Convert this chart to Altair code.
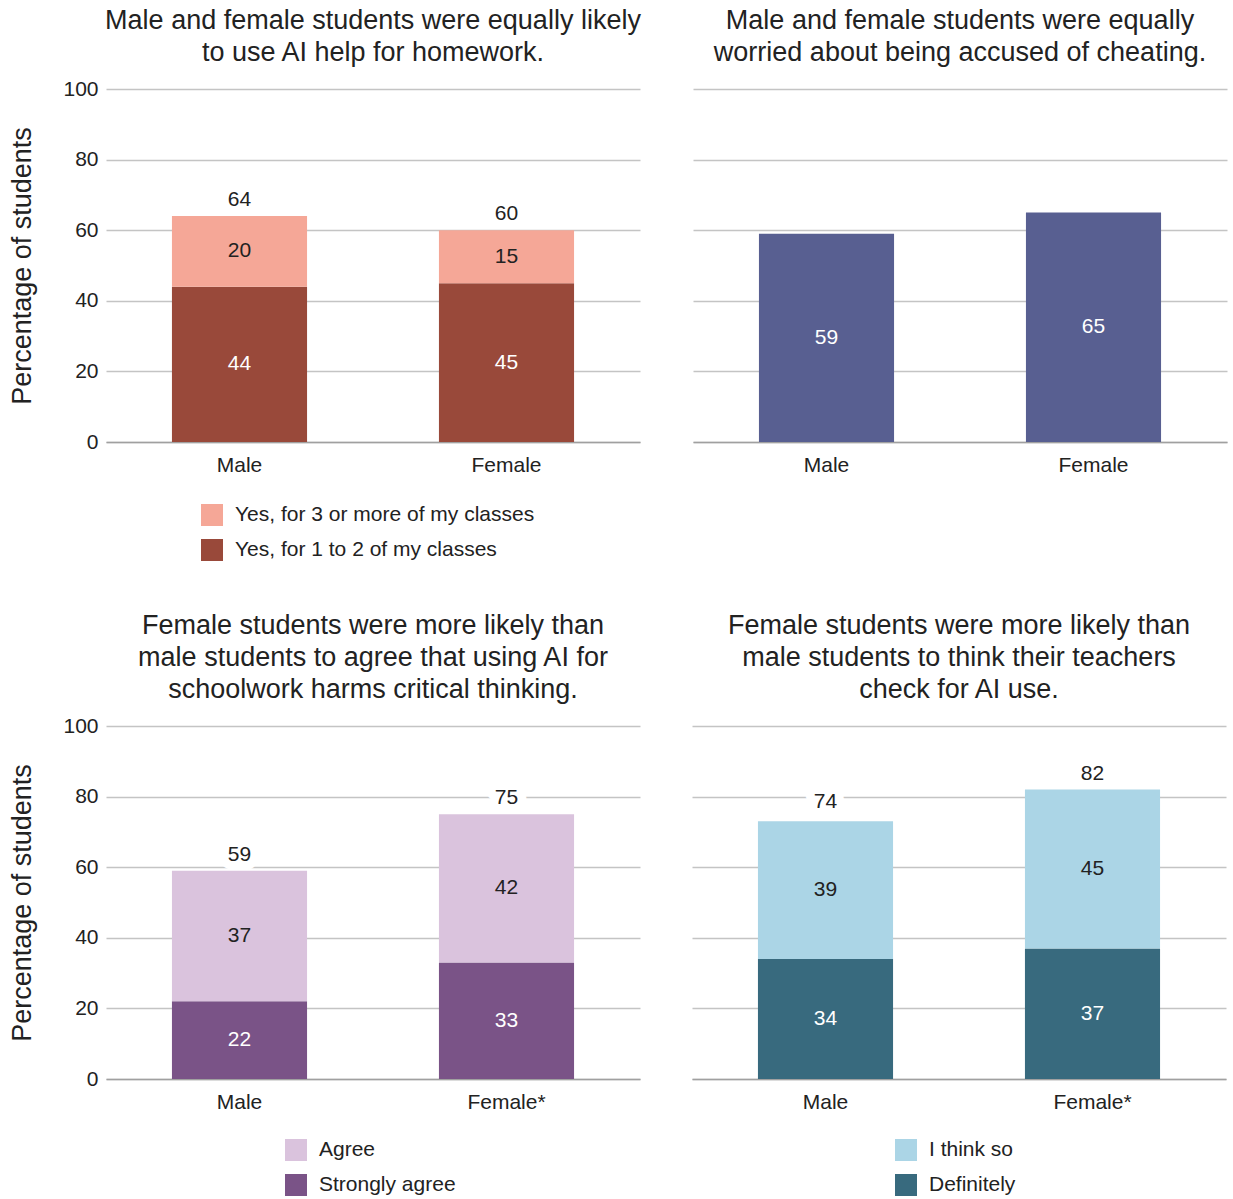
import altair as alt
import pandas as pd

FONT = "Liberation Sans"
TXT = "#222222"

cats_top = ["Male", "Female"]
cats_bottom = ["Male", "Female*"]

# Panel 1: AI help for homework
hw_series = ["Yes, for 3 or more of my classes", "Yes, for 1 to 2 of my classes"]
hw_many = [20, 15]
hw_few = [44, 45]
hw_total = [64, 60]
hw_colors = ["#F5A797", "#99493A"]

# Panel 2: worried about being accused of cheating
cheat_vals = [59, 65]
cheat_color = "#585F91"

# Panel 3: AI harms critical thinking
ct_series = ["Agree", "Strongly agree"]
ct_agree = [37, 42]
ct_strong = [22, 33]
ct_total = [59, 75]
ct_colors = ["#DAC3DD", "#7A5387"]

# Panel 4: teachers check for AI use
tc_series = ["I think so", "Definitely"]
tc_think = [39, 45]
tc_def = [34, 37]
tc_total = [74, 82]
tc_colors = ["#ABD5E6", "#386A7E"]

y_ticks = [0, 20, 40, 60, 80, 100]

W, H = 534, 353
LBL = 21
TTL = 27


def stacked_df(cats, series, upper, lower):
    rows = []
    for c, u, l in zip(cats, upper, lower):
        rows.append(dict(cat=c, series=series[1], y0=0, y1=l, mid=l / 2, val=l, dark=True))
        rows.append(dict(cat=c, series=series[0], y0=l, y1=l + u, mid=l + u / 2, val=u, dark=False))
    return pd.DataFrame(rows)


def x_enc(cats):
    return alt.X(
        "cat:N", sort=cats, title=None,
        scale=alt.Scale(paddingInner=0.494, paddingOuter=0.247),
        axis=alt.Axis(labelAngle=0, ticks=False, domain=True, domainColor="#a0a0a0",
                      domainWidth=1.5, labelPadding=12, labelFontSize=LBL,
                      labelColor=TXT, labelFont=FONT, grid=False),
    )


def y_scale():
    return alt.Scale(domain=[0, 100], nice=False)


def y_axis(show):
    if show:
        return alt.Axis(values=y_ticks, title="Percentage of students", ticks=False,
                        domain=False, labelPadding=8, labelFontSize=LBL, labelColor=TXT,
                        titleFontSize=TTL, titleColor=TXT, titleFontWeight="normal",
                        titlePadding=26, labelFont=FONT, titleFont=FONT,
                        grid=True, gridColor="#c4c4c4", gridWidth=1.5)
    return alt.Axis(values=y_ticks, title=None, labels=False, ticks=False, domain=False,
                    grid=True, gridColor="#c4c4c4", gridWidth=1.5)


def title_params(lines, offset):
    return alt.TitleParams(lines, fontSize=TTL, font=FONT, color=TXT, fontWeight="normal",
                           lineHeight=32, anchor="middle", offset=offset)


def stacked_panel(cats, series, upper, lower, totals, colors, title, legend_x, legend_y,
                  show_y, offset):
    df = stacked_df(cats, series, upper, lower)
    tot = pd.DataFrame({"cat": cats, "total": totals})
    x = x_enc(cats)
    knock = alt.Chart(tot).mark_text(
        fontSize=LBL, font=FONT, color="white", stroke="white", strokeWidth=18,
        strokeJoin="round", baseline="middle", dy=-16
    ).encode(x=x, y=alt.Y("total:Q", scale=y_scale(), axis=y_axis(show_y)), text="total:Q")
    bars = alt.Chart(df).mark_bar().encode(
        x=x,
        y=alt.Y("y1:Q", scale=y_scale(), axis=y_axis(show_y)),
        y2="y0:Q",
        color=alt.Color(
            "series:N",
            scale=alt.Scale(domain=series, range=colors),
            legend=alt.Legend(
                title=None, orient="none", legendX=legend_x, legendY=legend_y,
                direction="vertical", symbolType="square", symbolSize=484,
                symbolStrokeWidth=0, symbolOpacity=1, labelFontSize=LBL, labelFont=FONT,
                labelColor=TXT, rowPadding=13, labelOffset=12, padding=0, labelLimit=600,
            ),
        ),
    )
    lab_light = alt.Chart(df).transform_filter("!datum.dark").mark_text(
        fontSize=LBL, font=FONT, color=TXT, baseline="middle"
    ).encode(x=x, y=alt.Y("mid:Q", scale=y_scale()), text="val:Q")
    lab_dark = alt.Chart(df).transform_filter("datum.dark").mark_text(
        fontSize=LBL, font=FONT, color="white", baseline="middle"
    ).encode(x=x, y=alt.Y("mid:Q", scale=y_scale()), text="val:Q")
    tot_lab = alt.Chart(tot).mark_text(
        fontSize=LBL, font=FONT, color=TXT, baseline="middle", dy=-16
    ).encode(x=x, y=alt.Y("total:Q", scale=y_scale()), text="total:Q")
    return alt.layer(knock, bars, tot_lab, lab_light, lab_dark).properties(
        width=W, height=H, title=title_params(title, offset)
    )


def single_panel(cats, vals, color, title, show_y, offset):
    df = pd.DataFrame({"cat": cats, "val": vals})
    df["mid"] = df["val"] / 2
    x = x_enc(cats)
    bars = alt.Chart(df).mark_bar(color=color).encode(
        x=x, y=alt.Y("val:Q", scale=y_scale(), axis=y_axis(show_y))
    )
    labs = alt.Chart(df).mark_text(fontSize=LBL, font=FONT, color="white", baseline="middle").encode(
        x=x, y=alt.Y("mid:Q", scale=y_scale()), text="val:Q"
    )
    return alt.layer(bars, labs).properties(width=W, height=H, title=title_params(title, offset))


p1 = stacked_panel(cats_top, hw_series, hw_many, hw_few, hw_total, hw_colors,
                   ["Male and female students were equally likely", "to use AI help for homework."],
                   95, 415, True, 11)
p2 = single_panel(cats_top, cheat_vals, cheat_color,
                  ["Male and female students were equally", "worried about being accused of cheating."],
                  False, 22)
p3 = stacked_panel(cats_bottom, ct_series, ct_agree, ct_strong, ct_total, ct_colors,
                   ["Female students were more likely than",
                    "male students to agree that using AI for",
                    "schoolwork harms critical thinking."],
                   179, 413, True, 11)
p4 = stacked_panel(cats_bottom, tc_series, tc_think, tc_def, tc_total, tc_colors,
                   ["Female students were more likely than",
                    "male students to think their teachers",
                    "check for AI use."],
                   203, 413, False, 22)

top = alt.hconcat(p1, p2, spacing=52).resolve_scale(color="independent", x="independent")
bottom = alt.hconcat(p3, p4, spacing=52).resolve_scale(color="independent", x="independent")

chart = alt.vconcat(top, bottom, spacing=51).resolve_scale(
    color="independent", x="independent"
).properties(
    padding={"left": 8, "top": 7, "right": 5, "bottom": 5},
    background="white",
).configure_view(strokeWidth=0, stroke="transparent")

chart.save("out.html", embed_options={"renderer": "svg", "actions": False})
